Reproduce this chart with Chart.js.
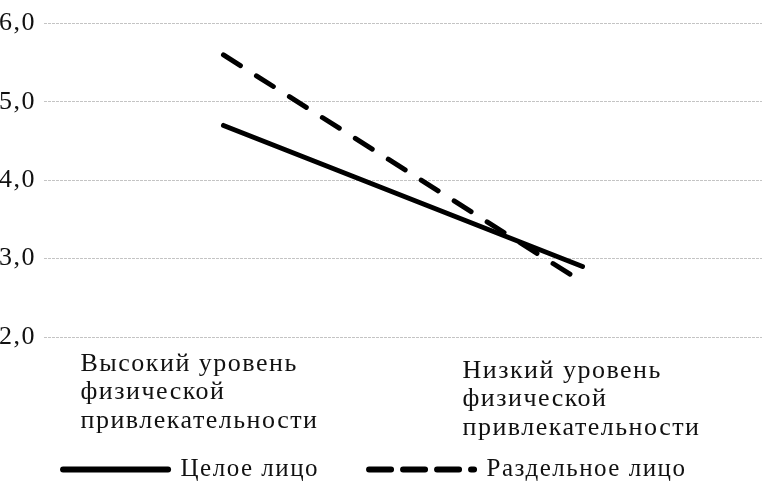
<!DOCTYPE html>
<html>
<head>
<meta charset="utf-8">
<script src="https://cdn.jsdelivr.net/npm/chart.js@4.4.1/dist/chart.umd.min.js"></script>
<style>
  body { margin: 0; background: #fff; }
  #wrap { width: 781px; height: 494px; }
</style>
</head>
<body>
<div id="wrap"><canvas id="lineChart"></canvas></div>
<script>
const CHART = document.getElementById('lineChart');

// data
var categories = [
  ['Высокий уровень', 'физической', 'привлекательности'],
  ['Низкий уровень', 'физической', 'привлекательности']
];
var seriesNames = ['Целое лицо', 'Раздельное лицо'];
var wholeFace = [4.7, 2.9];
var splitFace = [5.6, 2.7];
var yTicks = [2, 3, 4, 5, 6];

const SERIF = '"Liberation Serif", "DejaVu Serif", serif';

// the original typeface is wider, so letters get a bit of spacing
var spacing = {
  id: 'spacing',
  beforeLayout(chart) { chart.ctx.letterSpacing = '2px'; },
  afterLayout(chart) { chart.ctx.letterSpacing = '0px'; },
  beforeDraw(chart) { chart.ctx.letterSpacing = '1.5px'; },
  beforeDatasetsDraw(chart) { chart.ctx.letterSpacing = '0px'; }
};

// category labels are left aligned blocks under the axis
var catLabels = {
  id: 'catLabels',
  afterDraw(chart) {
    var ctx = chart.ctx;
    var xs = chart.scales.x;
    var shift = [[-143, 14], [-120, 21]];
    ctx.save();
    ctx.font = '26px ' + SERIF;
    ctx.letterSpacing = '1.5px';
    ctx.fillStyle = '#111';
    ctx.textAlign = 'left';
    ctx.textBaseline = 'top';
    categories.forEach(function(lines, i) {
      var x = xs.getPixelForValue(i) + shift[i][0];
      var y = chart.chartArea.bottom + shift[i][1];
      lines.forEach(function(t, j) {
        ctx.fillText(t, x, y + j * 28.5);
      });
    });
    ctx.restore();
  }
};

var lineChart = new Chart(CHART, {
  type: 'line',
  data: {
    labels: categories.map(function(c) { return c.join(' '); }),
    datasets: [
      {
        label: seriesNames[0],
        data: wholeFace,
        borderColor: '#000',
        backgroundColor: '#000',
        borderWidth: 5,
        borderCapStyle: 'round',
        pointRadius: 0,
        fill: false,
        tension: 0
      },
      {
        label: seriesNames[1],
        data: splitFace,
        borderColor: '#000',
        backgroundColor: '#000',
        borderWidth: 5,
        borderDash: [20, 19],
        borderCapStyle: 'round',
        pointRadius: 0,
        fill: false,
        tension: 0
      }
    ]
  },
  options: {
    responsive: true,
    maintainAspectRatio: false,
    animation: false,
    layout: { padding: { top: 23, right: 19, bottom: 2, left: 0 } },
    plugins: {
      tooltip: { enabled: false },
      legend: {
        position: 'bottom',
        labels: {
          usePointStyle: true,
          pointStyle: 'line',
          pointStyleWidth: 105,
          boxHeight: 6,
          padding: 50,
          color: '#111',
          font: { family: SERIF, size: 25 },
          generateLabels(chart) {
            var items = Chart.defaults.plugins.legend.labels.generateLabels(chart);
            items.forEach(function(it, i) {
              it.lineWidth = 6;
              it.lineCap = 'round';
              it.pointStyle = 'line';
              it.lineDash = i === 1 ? [22, 12] : [];
            });
            return items;
          }
        }
      }
    },
    scales: {
      x: {
        offset: true,
        grid: { display: false },
        border: { display: false },
        ticks: { display: false },
        afterFit(scale) { scale.height = 70; }
      },
      y: {
        min: 2,
        max: 6,
        afterBuildTicks(scale) {
          scale.ticks = yTicks.map(function(v) { return { value: v }; });
        },
        afterFit(scale) { scale.width = 44; },
        border: { display: false, dash: [3, 1] },
        grid: {
          color: '#c4c4c4',
          lineWidth: 1,
          drawTicks: false
        },
        ticks: {
          padding: 8,
          color: '#111',
          font: { family: SERIF, size: 26 },
          callback: function(v) { return v.toFixed(1).replace('.', ','); }
        }
      }
    }
  },
  plugins: [spacing, catLabels]
});
</script>
</body>
</html>
